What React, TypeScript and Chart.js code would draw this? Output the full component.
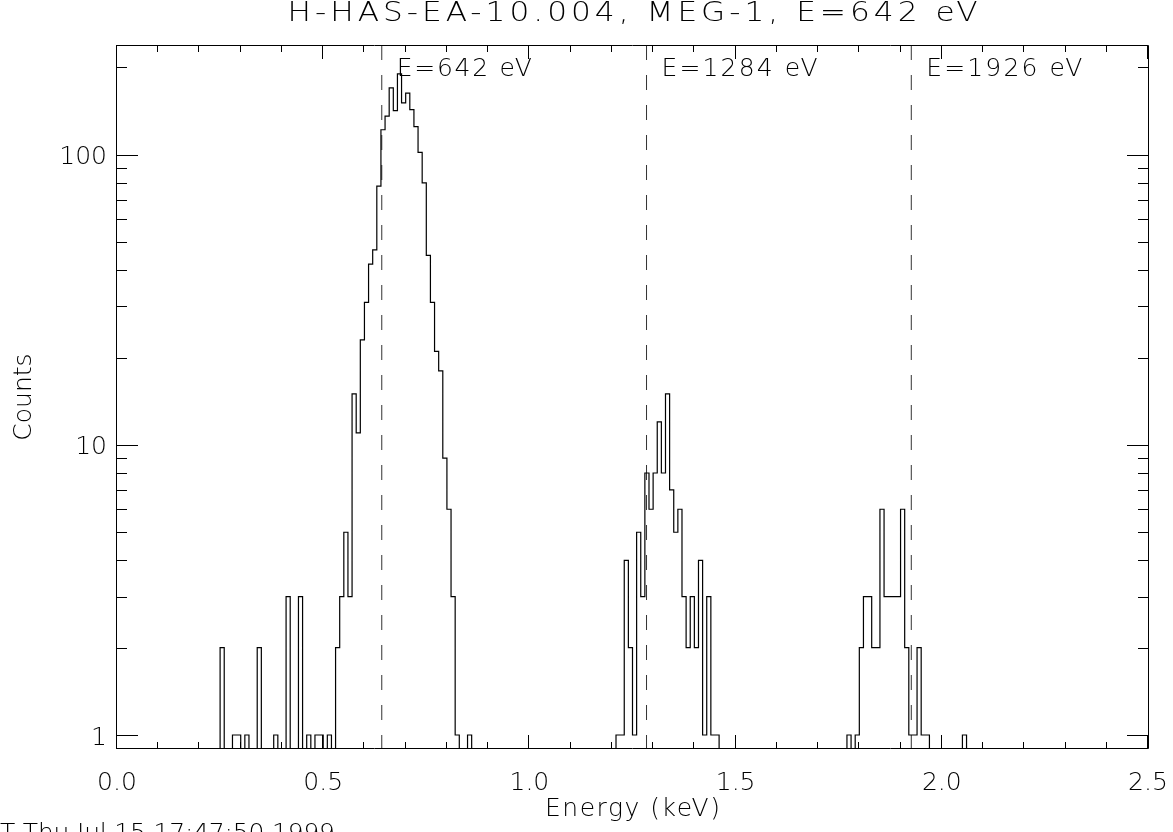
import React, { useEffect, useRef } from 'react';
import { Chart, registerables } from 'chart.js';

Chart.register(...registerables);

// ---------- texts ----------
const TITLE = 'H-HAS-EA-10.004, MEG-1, E=642 eV';
const X_TITLE = 'Energy (keV)';
const Y_TITLE = 'Counts';
const FOOTER = 'T Thu Jul 15 17:47:50 1999';

// ---------- data (counts per 0.01 keV bin) ----------
const BIN_WIDTH = 0.01;
const peak1Start = 0.25;
const peak1Counts = [
  2, 0, 0, 1, 1, 0, 1, 0, 0, 2,
  0, 0, 0, 1, 0, 0, 3, 0, 0, 3,
  0, 1, 0, 1, 1, 0, 1, 0, 2, 3,
  5, 3, 15, 11, 23, 31, 42, 47, 78, 122,
  136, 170, 142, 190, 151, 163, 143, 125, 102, 80,
  45, 31, 21, 18, 9, 6, 3, 1, 0, 0,
  1,
];
const peak2Start = 1.21;
const peak2Counts = [
  1, 1, 4, 2, 1, 5, 3, 8, 6, 8,
  12, 8, 15, 7, 5, 6, 3, 2, 3, 2,
  4, 1, 3, 1, 1,
];
const peak3Start = 1.77;
const peak3Counts = [
  1, 0, 1, 2, 3, 3, 2, 2, 6, 3,
  3, 3, 3, 6, 2, 1, 1, 2, 1, 1,
  0, 0, 0, 0, 0, 0, 0, 0, 1,
];

// reference lines
const lineEnergies = [0.642, 1.284, 1.926];
const lineLabels = ['E=642 eV', 'E=1284 eV', 'E=1926 eV'];

// axes
const X_MIN = 0;
const X_MAX = 2.5;
const Y_MIN = 0.895;
const Y_MAX = 239;
const xMajorTicks = [0, 0.5, 1.0, 1.5, 2.0, 2.5];
const xTickLabels = ['0.0', '0.5', '1.0', '1.5', '2.0', '2.5'];
const xMinorTicks = [0.1, 0.2, 0.3, 0.4, 0.6, 0.7, 0.8, 0.9, 1.1, 1.2, 1.3, 1.4, 1.6, 1.7, 1.8, 1.9, 2.1, 2.2, 2.3, 2.4];
const yMajorTicks = [1, 10, 100];
const yTickLabels = ['1', '10', '100'];
const yMinorTicks = [2, 3, 4, 5, 6, 7, 8, 9, 20, 30, 40, 50, 60, 70, 80, 90, 200];

const FONT_FAMILY = "'DejaVu Sans', 'Liberation Sans', sans-serif";
const FONT_WEIGHT = '200';
const INK = '#000';

function buildHistogram() {
  const segments = [
    { start: peak1Start, counts: peak1Counts },
    { start: peak2Start, counts: peak2Counts },
    { start: peak3Start, counts: peak3Counts },
  ];
  const byIndex = new Map<number, number>();
  let lo = Infinity;
  let hi = -Infinity;
  segments.forEach((s) => {
    const i0 = Math.round(s.start / BIN_WIDTH);
    s.counts.forEach((c, k) => {
      byIndex.set(i0 + k, c);
      lo = Math.min(lo, i0 + k);
      hi = Math.max(hi, i0 + k);
    });
  });
  const pts: { x: number; y: number }[] = [];
  for (let i = lo - 2; i <= hi + 2; i++) {
    const c = byIndex.get(i) ?? 0;
    pts.push({ x: (i + 0.5) * BIN_WIDTH, y: c > 0 ? c : Y_MIN });
  }
  return pts;
}

function drawText(
  ctx: CanvasRenderingContext2D,
  text: string,
  x: number,
  y: number,
  size: number,
  align: 'left' | 'center' | 'right',
  targetWidth?: number,
  stretch = 1
) {
  ctx.font = `${FONT_WEIGHT} ${size}px ${FONT_FAMILY}`;
  (ctx as any).letterSpacing = '0px';
  const natural = ctx.measureText(text).width * stretch;
  let w = natural;
  let ls = 0;
  if (targetWidth && text.length > 1) {
    ls = (targetWidth - natural) / (text.length - 1);
    w = targetWidth;
  }
  ctx.textAlign = 'left';
  ctx.textBaseline = 'alphabetic';
  let sx = x;
  if (align === 'center') sx = x - w / 2;
  else if (align === 'right') sx = x - w;
  ctx.save();
  ctx.translate(sx, y);
  ctx.scale(stretch, 1);
  (ctx as any).letterSpacing = `${ls / stretch}px`;
  ctx.fillText(text, 0, 0);
  (ctx as any).letterSpacing = '0px';
  ctx.restore();
}

const idlFrame = {
  id: 'idlFrame',
  afterDatasetsDraw(chart: any) {
    const { ctx, chartArea } = chart;
    const xs = chart.scales.x;
    const ys = chart.scales.y;
    const L = chartArea.left;
    const R = chartArea.right;
    const T = chartArea.top;
    const B = chartArea.bottom;
    ctx.save();
    ctx.strokeStyle = INK;
    ctx.lineWidth = 1;
    ctx.beginPath();
    ctx.rect(Math.round(L) - 0.5, Math.round(T) + 0.5, Math.round(R - L) + 1, Math.round(B - T) - 1);
    ctx.stroke();

    const xMajLen = 14;
    const xMinLen = 7;
    const yMajLen = 21;
    const yMinLen = 10;
    ctx.beginPath();
    const vtick = (v: number, len: number) => {
      const px = Math.round(xs.getPixelForValue(v)) - 0.5;
      ctx.moveTo(px, B);
      ctx.lineTo(px, B - len);
      ctx.moveTo(px, T);
      ctx.lineTo(px, T + len);
    };
    const htick = (v: number, len: number) => {
      const py = Math.round(ys.getPixelForValue(v)) + 0.5;
      ctx.moveTo(L, py);
      ctx.lineTo(L + len, py);
      ctx.moveTo(R, py);
      ctx.lineTo(R - len, py);
    };
    xMajorTicks.forEach((v) => vtick(v, xMajLen));
    xMinorTicks.forEach((v) => vtick(v, xMinLen));
    yMajorTicks.forEach((v) => htick(v, yMajLen));
    yMinorTicks.forEach((v) => htick(v, yMinLen));
    ctx.stroke();
    ctx.restore();
  },
  afterDraw(chart: any) {
    const { ctx, chartArea } = chart;
    const xs = chart.scales.x;
    const ys = chart.scales.y;
    const L = chartArea.left;
    const R = chartArea.right;
    const T = chartArea.top;
    const B = chartArea.bottom;
    ctx.save();
    ctx.fillStyle = INK;

    // title
    drawText(ctx, TITLE, (L + R) / 2, 21, 26, 'center', 690, 1.2);

    // x tick labels
    xMajorTicks.forEach((v, i) => {
      drawText(ctx, xTickLabels[i], xs.getPixelForValue(v), B + 41, 25, 'center');
    });
    // y tick labels
    yMajorTicks.forEach((v, i) => {
      drawText(ctx, yTickLabels[i], L - 10, ys.getPixelForValue(v) + 9.5, 25, 'right');
    });

    // axis titles
    drawText(ctx, X_TITLE, (L + R) / 2, B + 67, 25, 'center', 175);
    ctx.save();
    ctx.translate(31, (T + B) / 2);
    ctx.rotate(-Math.PI / 2);
    drawText(ctx, Y_TITLE, 0, 0, 25, 'center');
    ctx.restore();

    // line labels
    lineEnergies.forEach((e, i) => {
      const px = xs.getPixelForValue(e);
      const tw = lineLabels[i].length === 8 ? 135 : 156;
      drawText(ctx, lineLabels[i], px + 15, T + 31, 25, 'left', tw);
    });

    // footer (cut by bottom of the page, as in the reference)
    drawText(ctx, FOOTER, 0, 841, 25, 'left', 335);
    ctx.restore();
  },
};

export default function App() {
  const ref = useRef<HTMLCanvasElement>(null);

  useEffect(() => {
    document.body.style.margin = '0';
    const canvas = ref.current;
    if (!canvas) return;

    const histogram = buildHistogram();
    const dashed = lineEnergies.map((e) => ({
      type: 'line' as const,
      data: [
        { x: e, y: Y_MAX },
        { x: e, y: Y_MIN },
      ],
      borderColor: '#333',
      borderWidth: 1,
      borderDash: [15, 15],
      pointRadius: 0,
      fill: false,
      order: 2,
    }));

    const chart = new Chart(canvas, {
      type: 'line',
      data: {
        datasets: [
          {
            data: histogram,
            borderColor: INK,
            borderWidth: 1.2,
            pointRadius: 0,
            stepped: 'middle',
            fill: false,
            order: 1,
          } as any,
          ...dashed,
        ],
      },
      options: {
        animation: false,
        responsive: false,
        devicePixelRatio: 1,
        layout: { padding: { left: 0, top: 45, right: 25, bottom: 0 } },
        plugins: {
          legend: { display: false },
          title: { display: false },
          tooltip: { enabled: false },
        },
        events: [],
        scales: {
          x: {
            type: 'linear',
            min: X_MIN,
            max: X_MAX,
            grid: { display: false, drawTicks: false },
            border: { display: false },
            ticks: { display: false },
            afterFit: (s: any) => {
              s.height = 83;
            },
          },
          y: {
            type: 'logarithmic',
            min: Y_MIN,
            max: Y_MAX,
            grid: { display: false, drawTicks: false },
            border: { display: false },
            ticks: { display: false },
            afterFit: (s: any) => {
              s.width = 117;
            },
          },
        },
      },
      plugins: [idlFrame],
    });

    return () => chart.destroy();
  }, []);

  return (
    <div style={{ position: 'fixed', left: 0, top: 0, width: 1173, height: 832, background: '#fff', overflow: 'hidden' }}>
      <canvas ref={ref} width={1173} height={832} style={{ display: 'block', width: 1173, height: 832 }} />
    </div>
  );
}
